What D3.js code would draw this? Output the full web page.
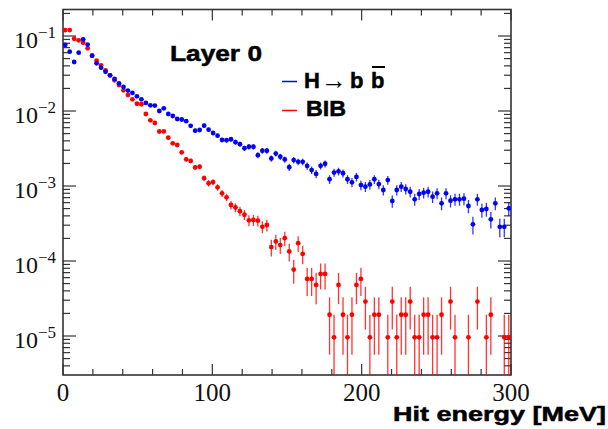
<!DOCTYPE html>
<html><head><meta charset="utf-8">
<script src="https://cdn.jsdelivr.net/npm/d3@7/dist/d3.min.js"></script>
<style>html,body{margin:0;padding:0;background:#fff}</style>
</head><body>
<svg id="chart" width="608" height="429"></svg>
<script>
// ---------------- data ----------------
const binLow = 0, binWidth = 3, nBins = 100;          // Hit energy binning [MeV]
const xTickLabels = [0, 100, 200, 300];
const yTickLabels = ["−1", "−2", "−3", "−4", "−5"];   // exponents of 10
const yTickValues = [1e-1, 1e-2, 1e-3, 1e-4, 1e-5];
const seriesNames = ["H → b b̄", "BIB"];

// H -> b bbar (blue), normalised hit-energy distribution
const signalValues = [
  0.0759, 0.0618, 0.0450, 0.0599, 0.0904, 0.0770, 0.0546, 0.0432, 0.0378, 0.0334,
  0.0299, 0.0267, 0.0234, 0.0209, 0.0187, 0.0174, 0.0157, 0.0143, 0.0128, 0.0119,
  0.0118, 0.0100, 0.01086, 0.00912, 0.00858, 0.00782, 0.00770, 0.00731, 0.00635, 0.00546,
  0.00558, 0.00637, 0.00563, 0.00509, 0.00469, 0.00411, 0.00408, 0.00420, 0.00384, 0.00361,
  0.00319, 0.00334, 0.00334, 0.00258, 0.00295, 0.00295, 0.00233, 0.00271, 0.00246, 0.00226,
  0.00178, 0.00222, 0.00210, 0.00210, 0.00185, 0.00163, 0.00145, 0.00186, 0.00198, 0.00123,
  0.00151, 0.00157, 0.00148, 0.00123, 0.00112, 0.00132, 0.00103, 0.00098, 0.00105, 0.00123,
  0.00106, 0.000885, 0.00120, 0.000631, 0.000885, 0.000980, 0.000912, 0.000839, 0.000665, 0.000782,
  0.000814, 0.000839, 0.000720, 0.000800, 0.000588, 0.000800, 0.000637, 0.000665, 0.000665, 0.000678,
  0.000541, 0.000308, 0.000665, 0.000479, 0.000494, 0.000360, 0.000588, 0.000286, 0.000286, 0.000504
];
// BIB (red); 0 = empty bin
const bibValues = [
  0.120, 0.120, 0.0920, 0.0877, 0.0814, 0.0686, 0.0546, 0.0469, 0.0407, 0.0349,
  0.0299, 0.0257, 0.0222, 0.0189, 0.0163, 0.0143, 0.0125, 0.0123, 0.00912, 0.00752,
  0.00692, 0.00533, 0.00534, 0.00441, 0.00371, 0.00352, 0.00281, 0.00227, 0.00216, 0.00177,
  0.00181, 0.00127, 0.00109, 0.00113, 0.000961, 0.000800, 0.000707, 0.000558, 0.000517, 0.000461,
  0.000414, 0.000349, 0.000352, 0.000345, 0.000286, 0.000302, 1.536e-4, 1.824e-4, 1.632e-4, 2.016e-4,
  1.344e-4, 7.68e-5, 1.728e-4, 1.248e-4, 5.76e-5, 5.76e-5, 4.8e-5, 6.72e-5, 6.72e-5, 1.92e-5,
  9.6e-6, 4.8e-5, 1.92e-5, 9.6e-6, 1.92e-5, 4.8e-5, 5.76e-5, 2.88e-5, 9.6e-6, 1.92e-5,
  1.92e-5, 0, 9.6e-6, 2.88e-5, 9.6e-6, 1.92e-5, 1.92e-5, 2.88e-5, 9.6e-6, 9.6e-6,
  1.92e-5, 1.92e-5, 9.6e-6, 9.6e-6, 1.92e-5, 0, 2.88e-5, 9.6e-6, 0, 0,
  9.6e-6, 0, 2.88e-5, 0, 9.6e-6, 1.92e-5, 0, 0, 9.6e-6, 9.6e-6
];
// weight of a single entry (Poisson errors: sqrt(N) * weight)
const signalEntryWeight = 2.2e-5;
const bibEntryWeight = 9.6e-6;

// ---------------- layout ----------------
const svg = d3.select("#chart");
const L = 63, R = 511, T = 9.5, B = 375;
const x = d3.scaleLinear().domain([0, 300]).range([L, R]);
const y = d3.scaleLog().domain([3.02e-6, 0.2257]).range([B, T]);
const axisColor = "#333";

svg.append("defs").append("clipPath").attr("id", "clip")
  .append("rect").attr("x", L).attr("y", T).attr("width", R - L).attr("height", B - T);

// ticks
const xMinor = d3.range(0, 301, 20);
const xMajor = [0, 100, 200, 300];
const yMinor = [];
for (let e = -6; e <= -1; e++) for (let m = 1; m <= 9; m++) {
  const v = m * Math.pow(10, e);
  if (v >= 3.02e-6 && v <= 0.2257) yMinor.push(v);
}
const gT = svg.append("g").attr("stroke", axisColor).attr("stroke-width", 1.2);
xMinor.forEach(v => {
  const len = xMajor.includes(v) ? 11 : 6;
  gT.append("line").attr("x1", x(v)).attr("x2", x(v)).attr("y1", B).attr("y2", B - len);
  gT.append("line").attr("x1", x(v)).attr("x2", x(v)).attr("y1", T).attr("y2", T + len);
});
yMinor.forEach(v => {
  const major = yTickValues.some(t => Math.abs(t - v) / t < 1e-6);
  const len = major ? 13 : 7;
  gT.append("line").attr("x1", L).attr("x2", L + len).attr("y1", y(v)).attr("y2", y(v));
  gT.append("line").attr("x1", R).attr("x2", R - len).attr("y1", y(v)).attr("y2", y(v));
});

// frame
svg.append("rect").attr("x", L).attr("y", T).attr("width", R - L).attr("height", B - T)
  .attr("fill", "none").attr("stroke", axisColor).attr("stroke-width", 1.6);

// axis labels
const serif = "'Liberation Serif','Times New Roman',serif";
svg.append("g").selectAll("text").data(xTickLabels).join("text")
  .attr("x", d => x(d)).attr("y", 401).attr("text-anchor", "middle")
  .attr("font-family", serif).attr("font-size", 25).attr("fill", "#111")
  .text(d => d);
const yl = svg.append("g").selectAll("text").data(yTickValues).join("text")
  .attr("x", 56).attr("y", d => y(d) + 12).attr("text-anchor", "end")
  .attr("font-family", serif).attr("font-size", 24).attr("fill", "#111");
yl.append("tspan").text("10");
yl.append("tspan").attr("dy", -10).attr("font-size", 17).text((d, i) => yTickLabels[i]);

// data
const bins = d3.range(nBins).map(i => binLow + (i + 0.5) * binWidth);
const plot = svg.append("g").attr("clip-path", "url(#clip)");
function drawSeries(values, weight, color) {
  const pts = values.map((v, i) => ({ c: bins[i], v })).filter(d => d.v > 0);
  const g = plot.append("g");
  g.selectAll("line").data(pts).join("line")
    .attr("x1", d => x(d.c)).attr("x2", d => x(d.c))
    .attr("y1", d => y(d.v + Math.sqrt(d.v * weight)))
    .attr("y2", d => { const lo = d.v - Math.sqrt(d.v * weight); return lo > 3.02e-6 ? y(lo) : B + 2; })
    .attr("stroke", color).attr("stroke-width", 1.3).attr("stroke-opacity", 0.8);
  g.selectAll("circle").data(pts).join("circle")
    .attr("cx", d => x(d.c)).attr("cy", d => y(d.v)).attr("r", 2.4).attr("fill", color);
}
drawSeries(bibValues, bibEntryWeight, "#ff0000");
drawSeries(signalValues, signalEntryWeight, "#0000ff");

// title & legend
const sans = "'Liberation Sans',Arial,Helvetica,sans-serif";
const heavy = sel => sel.attr("font-family", sans).attr("font-weight", "bold")
  .attr("fill", "#000").attr("stroke", "#000").attr("stroke-width", 0.5);

heavy(svg.append("text")).attr("x", 170).attr("y", 61).attr("font-size", 22)
  .attr("textLength", 92).attr("lengthAdjust", "spacingAndGlyphs").text("Layer 0");

svg.append("line").attr("x1", 282).attr("x2", 297).attr("y1", 81.5).attr("y2", 81.5)
  .attr("stroke", "#0000ff").attr("stroke-width", 1.5);
svg.append("line").attr("x1", 282).attr("x2", 297).attr("y1", 110.5).attr("y2", 110.5)
  .attr("stroke", "#ff0000").attr("stroke-width", 1.5);

const leg1 = heavy(svg.append("text")).attr("y", 88).attr("font-size", 22);
leg1.append("tspan").attr("x", 304).text("H");
leg1.append("tspan").attr("x", 350).text("b");
leg1.append("tspan").attr("x", 371).text("b");
svg.append("text").attr("x", 321).attr("y", 89).attr("font-family", serif)
  .attr("font-size", 26).attr("textLength", 26).attr("lengthAdjust", "spacingAndGlyphs")
  .attr("fill", "#000").text("→");
svg.append("line").attr("x1", 372).attr("x2", 385).attr("y1", 67).attr("y2", 67)
  .attr("stroke", "#000").attr("stroke-width", 2);

heavy(svg.append("text")).attr("x", 306).attr("y", 116).attr("font-size", 22)
  .attr("textLength", 40).attr("lengthAdjust", "spacingAndGlyphs").text(seriesNames[1]);

heavy(svg.append("text")).attr("x", 393).attr("y", 421).attr("font-size", 21)
  .attr("textLength", 213).attr("lengthAdjust", "spacingAndGlyphs").text("Hit energy [MeV]");
</script>
</body></html>
